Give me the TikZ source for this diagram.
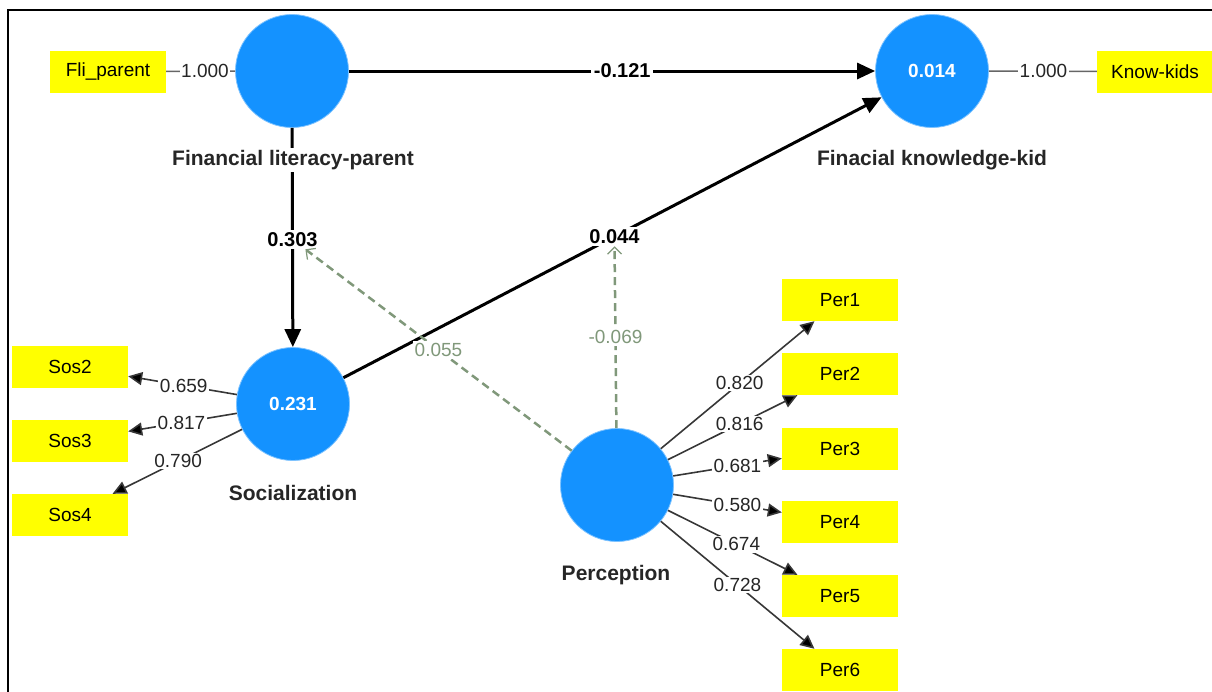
\documentclass[tikz,border=0pt]{standalone}
\usepackage{fontspec}
\setmainfont{Liberation Sans}
\usetikzlibrary{arrows.meta,calc}
\definecolor{lvblue}{RGB}{20,146,255}
\definecolor{indyellow}{RGB}{255,255,0}
\definecolor{modgreen}{RGB}{128,152,122}
\definecolor{loadgray}{RGB}{55,55,55}

\begin{document}
\begin{tikzpicture}[x=1pt,y=-1pt,
  latent/.style={circle,fill=lvblue,draw=lvblue!55!white,line width=0.8pt,minimum size=113pt,inner sep=0pt,
    text=white,font=\fontsize{19}{22}\selectfont\bfseries},
  indicator/.style={rectangle,fill=indyellow,minimum width=116pt,minimum height=42pt,inner sep=0pt,
    font=\fontsize{19}{22}\selectfont},
  lvname/.style={fill=white,inner sep=2pt,font=\fontsize{21}{24}\selectfont\bfseries,text=black!85},
  structural/.style={line width=3pt,-{Triangle[length=18pt,width=16pt]}},
  coef/.style={fill=white,inner sep=2.5pt,font=\fontsize{20}{23}\selectfont\bfseries},
  loading/.style={line width=1.6pt,draw=loadgray,-{Triangle[length=14pt,width=13pt,fill=black]}},
  ldval/.style={fill=white,inner sep=1.5pt,font=\fontsize{19}{22}\selectfont,text=black!85},
  single/.style={line width=1.6pt,draw=black!60},
  moder/.style={line width=2.5pt,draw=modgreen,dash pattern=on 8pt off 5pt,
    -{Straight Barb[length=7pt,width=14pt,line width=1.2pt]}},
  modval/.style={fill=white,inner sep=2pt,font=\fontsize{19}{22}\selectfont,text=modgreen}
]
\useasboundingbox (0,0) rectangle (1212,691);

% frame
\draw[line width=2pt] (8,700) -- (8,10) -- (1220,10);

% latent variables
\node[latent] (flp) at (292,71) {};
\node[latent] (fkk) at (932,71) {0.014};
\node[latent] (soc) at (293,404) {0.231};
\node[latent] (per) at (617,485) {};

% indicators
\node[indicator] (fli)  at (108,71.5) {Fli\_parent};
\node[indicator] (know) at (1155,71.5) {Know-kids};
\node[indicator] (sos2) at (70,366.5) {Sos2};
\node[indicator] (sos3) at (70,441) {Sos3};
\node[indicator] (sos4) at (70,515) {Sos4};
\node[indicator] (per1) at (840,300) {Per1};
\node[indicator] (per2) at (840,374) {Per2};
\node[indicator] (per3) at (840,449) {Per3};
\node[indicator] (per4) at (840,522) {Per4};
\node[indicator] (per5) at (840,596) {Per5};
\node[indicator] (per6) at (840,670) {Per6};

% single-item measurement
\draw[single] (fli) -- (flp);
\node[ldval] (l-fli) at ($(fli)!0.527!(flp)$) {1.000};
\draw[single] (fkk) -- (know);
\node[ldval] (l-know) at ($(fkk)!0.5!(know)$) {1.000};

% structural paths
\draw[structural] (flp) -- (fkk);
\draw[structural] (flp) -- (soc);
\draw[structural] (soc) -- (fkk);

% loadings
\draw[loading] (soc) -- (sos2);
\draw[loading] (soc) -- (sos3);
\draw[loading] (soc) -- (sos4);
\node[ldval] (l-sos2) at ($(soc)!0.49!(sos2)$) {0.659};
\node[ldval] (l-sos3) at ($(soc)!0.50!(sos3)$) {0.817};
\node[ldval] (l-sos4) at ($(soc)!0.515!(sos4)$) {0.790};

\foreach \i in {1,...,6} { \draw[loading] (per) -- (per\i); }
\node[ldval] (l-per1) at ($(per)!0.55!(per1)$) {0.820};
\node[ldval] (l-per2) at ($(per)!0.55!(per2)$) {0.816};
\node[ldval] (l-per3) at ($(per)!0.54!(per3)$) {0.681};
\node[ldval] (l-per4) at ($(per)!0.54!(per4)$) {0.580};
\node[ldval] (l-per5) at ($(per)!0.535!(per5)$) {0.674};
\node[ldval] (l-per6) at ($(per)!0.54!(per6)$) {0.728};

% construct names
\node[lvname] (n-flp) at (293,160) {Financial literacy-parent};
\node[lvname] (n-fkk) at (932,160) {Finacial knowledge-kid};
\node[lvname] (n-soc) at (293,493) {Socialization};
\node[lvname] (n-per) at (616,575) {Perception};

% path coefficients
\node[coef] (c121) at ($(flp)!0.516!(fkk)$) {-0.121};
\node[coef] (c303) at ($(flp)!0.506!(soc)$) {0.303};
\node[coef] (c044) at ($(soc)!0.503!(fkk)$) {0.044};

% moderating effects
\draw[moder] (per) -- node[modval] (m069) {-0.069} (c044);
\draw[moder] (per) -- node[modval] (m055) {0.055} (c303);
\end{tikzpicture}
\end{document}
